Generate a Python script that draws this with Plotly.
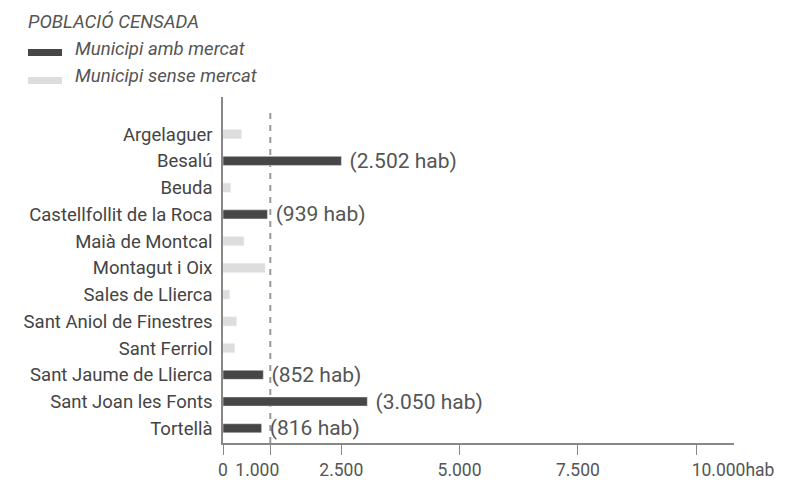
import plotly.graph_objects as go

# població censada per municipi
municipis = ["Argelaguer", "Besalú", "Beuda", "Castellfollit de la Roca",
             "Maià de Montcal", "Montagut i Oix", "Sales de Llierca",
             "Sant Aniol de Finestres", "Sant Ferriol", "Sant Jaume de Llierca",
             "Sant Joan les Fonts", "Tortellà"]

amb_mercat = ["Besalú", "Castellfollit de la Roca", "Sant Jaume de Llierca",
              "Sant Joan les Fonts", "Tortellà"]
amb_mercat_hab = [2502, 939, 852, 3050, 816]

sense_mercat = ["Argelaguer", "Beuda", "Maià de Montcal", "Montagut i Oix",
                "Sales de Llierca", "Sant Aniol de Finestres", "Sant Ferriol"]
sense_mercat_hab = [390, 160, 440, 890, 140, 285, 245]

tick_vals = [0, 1000, 2500, 5000, 7500, 10000]
tick_text = ["0", "1.000" + "\u00a0" * 6, "2.500", "5.000", "7.500",
             "\u00a0" * 17 + "10.000hab"]

llindar = 1000

FOSC = "#464646"
CLAR = "#dddddd"

# la pàgina ja té 8px de marge al body
L, R, T, B = 215, 61, 89, 42
W, H = 787, 477


def px_x(px):
    return (px - L) / (W - L - R)


def px_y(py):
    return (H - B - py) / (H - T - B)


def hab(v):
    return "\u00a0({:,} hab)".format(v).replace(",", ".")


fig = go.Figure()

fig.add_trace(go.Bar(
    y=sense_mercat, x=sense_mercat_hab, orientation="h",
    marker_color=CLAR, width=0.34, name="Municipi sense mercat",
))
fig.add_trace(go.Bar(
    y=amb_mercat, x=amb_mercat_hab, orientation="h",
    marker_color=FOSC, width=0.34, name="Municipi amb mercat",
    text=[hab(v) for v in amb_mercat_hab], textposition="outside",
    textfont=dict(size=21, color="#555"), constraintext="none",
    cliponaxis=False,
))

fig.add_shape(type="line", xref="x", yref="paper", x0=llindar, x1=llindar,
              y0=0, y1=0.965, layer="below",
              line=dict(color="#999", width=2, dash="6px,6px"))

# llegenda dibuixada
fig.add_shape(type="rect", xref="paper", yref="paper",
              x0=px_x(20), x1=px_x(54), y0=px_y(48), y1=px_y(41),
              fillcolor=FOSC, line_width=0)
fig.add_shape(type="rect", xref="paper", yref="paper",
              x0=px_x(20), x1=px_x(54), y0=px_y(76), y1=px_y(69),
              fillcolor=CLAR, line_width=0)

legend_txt = [("POBLACIÓ CENSADA", 18, 14), ("Municipi amb mercat", 65, 41),
              ("Municipi sense mercat", 65, 68)]
for txt, px, py in legend_txt:
    fig.add_annotation(text="<i>%s</i>" % txt, xref="paper", yref="paper",
                       x=px_x(px), y=px_y(py), xanchor="left", yanchor="middle",
                       showarrow=False, font=dict(size=18.6, color="#555"))

fig.update_layout(
    width=W, height=H,
    margin=dict(l=L, r=R, t=T, b=B),
    plot_bgcolor="white", paper_bgcolor="white",
    font=dict(family="Roboto", color="#444"),
    barmode="overlay",
    showlegend=False,
    xaxis=dict(range=[0, 10800], tickvals=tick_vals, ticktext=tick_text,
               showline=True, linecolor="#888", linewidth=1.5,
               ticks="outside", ticklen=10, tickcolor="#888",
               tickfont=dict(size=17.5, color="#555"),
               showgrid=False, zeroline=False, automargin=False),
    yaxis=dict(type="category", categoryorder="array", categoryarray=municipis,
               range=[11.55, -1.39], showline=True, linecolor="#888",
               linewidth=1.5, ticks="", tickfont=dict(size=18.5, color="#444"),
               ticklabelstandoff=5, showgrid=False, zeroline=False,
               automargin=False),
)

fig.write_html("out.html")
